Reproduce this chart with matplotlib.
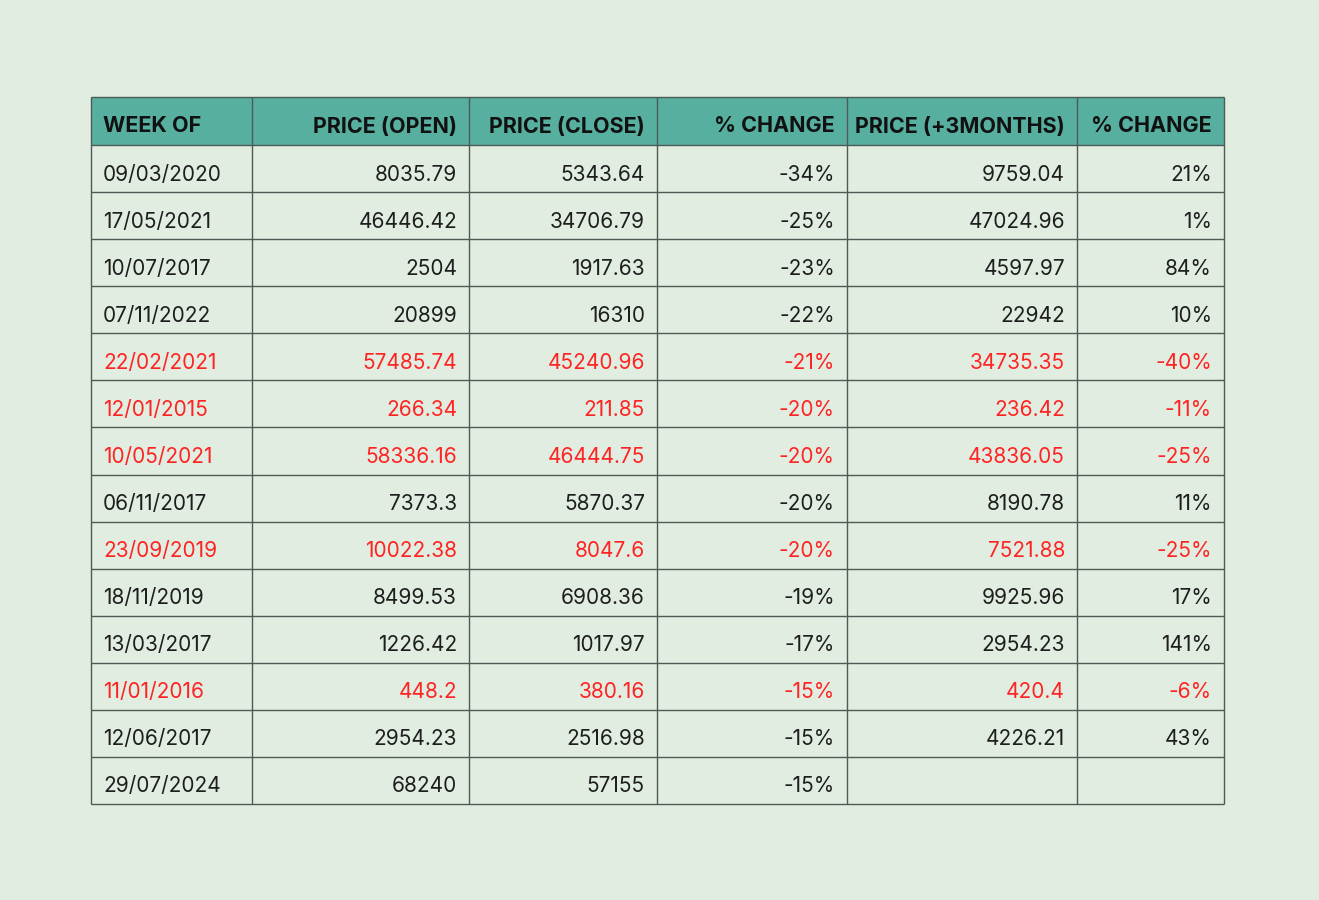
import matplotlib
matplotlib.use("Agg")
import matplotlib.pyplot as plt
from matplotlib.patches import Rectangle

headers = ["WEEK OF", "PRICE (OPEN)", "PRICE (CLOSE)", "% CHANGE", "PRICE (+3MONTHS)", "% CHANGE"]
week_of = ["09/03/2020", "17/05/2021", "10/07/2017", "07/11/2022", "22/02/2021", "12/01/2015",
           "10/05/2021", "06/11/2017", "23/09/2019", "18/11/2019", "13/03/2017", "11/01/2016",
           "12/06/2017", "29/07/2024"]
price_open = ["8035.79", "46446.42", "2504", "20899", "57485.74", "266.34", "58336.16", "7373.3",
              "10022.38", "8499.53", "1226.42", "448.2", "2954.23", "68240"]
price_close = ["5343.64", "34706.79", "1917.63", "16310", "45240.96", "211.85", "46444.75", "5870.37",
               "8047.6", "6908.36", "1017.97", "380.16", "2516.98", "57155"]
pct_change = ["-34%", "-25%", "-23%", "-22%", "-21%", "-20%", "-20%", "-20%", "-20%", "-19%",
              "-17%", "-15%", "-15%", "-15%"]
price_3m = ["9759.04", "47024.96", "4597.97", "22942", "34735.35", "236.42", "43836.05", "8190.78",
            "7521.88", "9925.96", "2954.23", "420.4", "4226.21", ""]
pct_change_3m = ["21%", "1%", "84%", "10%", "-40%", "-11%", "-25%", "11%", "-25%", "17%", "141%",
                 "-6%", "43%", ""]

W, H = 1319, 900
BG = "#E0EDE0"
HEAD = "#57AFA0"
LINE = "#4D5A55"
RED = "#FF2424"
TXT = "#1E1E1E"

col_edges = [91, 252, 469, 657, 847, 1077, 1224]
header_top, header_bot = 97, 145
row_h = (804 - 145) / 14.0

fig = plt.figure(figsize=(W / 100, H / 100), dpi=100, facecolor=BG)
ax = fig.add_axes([0, 0, 1, 1])
ax.set_xlim(0, W)
ax.set_ylim(H, 0)
ax.axis("off")
ax.set_facecolor(BG)

FONT = "Inter"

# header
ax.add_patch(Rectangle((col_edges[0], header_top), col_edges[-1] - col_edges[0], header_bot - header_top,
                       facecolor=HEAD, edgecolor="none", zorder=1))
for i, h in enumerate(headers):
    yh = (header_top + header_bot) / 2 + 5.5
    if i == 0:
        ax.text(col_edges[0] + 12, yh, h, ha="left", va="center",
                fontsize=15.5, fontweight="bold", family=FONT, color="#111111", zorder=3)
    else:
        ax.text(col_edges[i + 1] - 12, yh, h, ha="right", va="center",
                fontsize=15.5, fontweight="bold", family=FONT, color="#111111", zorder=3)

rows = list(zip(week_of, price_open, price_close, pct_change, price_3m, pct_change_3m))
for r, vals in enumerate(rows):
    y0 = header_bot + r * row_h
    yc = y0 + row_h / 2 + 6
    neg3 = vals[5].startswith("-")
    color = RED if neg3 else TXT
    for i, v in enumerate(vals):
        if i == 0:
            ax.text(col_edges[0] + 12, yc, v, ha="left", va="center", fontsize=15,
                    family=FONT, color=color, zorder=3)
        else:
            ax.text(col_edges[i + 1] - 12, yc, v, ha="right", va="center", fontsize=15,
                    family=FONT, color=color, zorder=3)

# grid lines
bottom = header_bot + 14 * row_h
for x in col_edges:
    ax.plot([x, x], [header_top, bottom], color=LINE, lw=1.0, zorder=2, solid_capstyle="butt")
ys = [header_top, header_bot] + [header_bot + (k + 1) * row_h for k in range(14)]
for y in ys:
    ax.plot([col_edges[0], col_edges[-1]], [y, y], color=LINE, lw=1.0, zorder=2, solid_capstyle="butt")

fig.savefig("out.png", dpi=100, facecolor=BG)
